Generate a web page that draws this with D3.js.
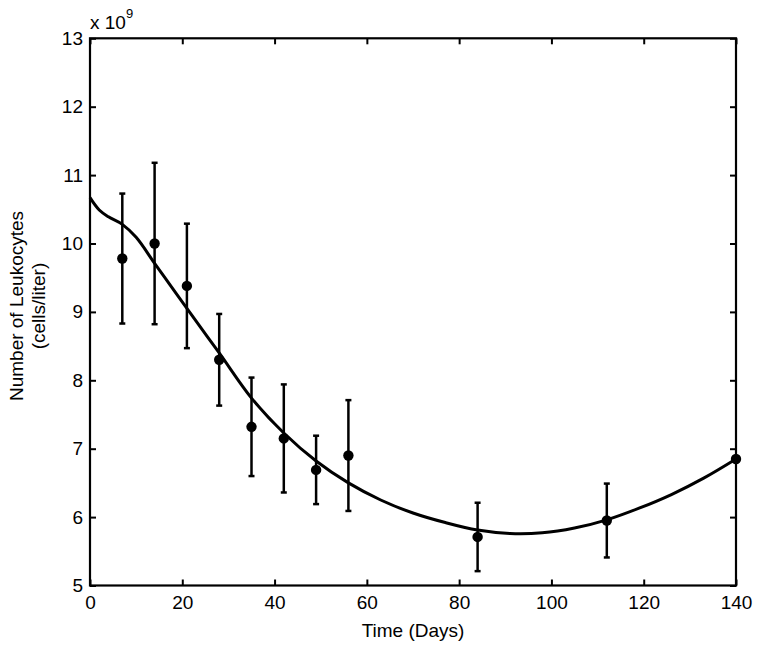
<!DOCTYPE html>
<html>
<head>
<meta charset="utf-8">
<script src="https://cdn.jsdelivr.net/npm/d3@7"></script>
<style>
  body { margin: 0; background: #fff; }
  text { font-family: "Liberation Sans", Arial, sans-serif; fill: #000; }
</style>
</head>
<body>
<div id="chart"></div>
<script>
// measured data (days, value in 1e9 cells/liter)
var days = [7, 14, 21, 28, 35, 42, 49, 56, 84, 112, 140];
var means = [9.78, 10.0, 9.38, 8.30, 7.32, 7.15, 6.69, 6.90, 5.71, 5.95, 6.85];
var errs = [0.95, 1.18, 0.91, 0.67, 0.72, 0.79, 0.50, 0.81, 0.50, 0.54, 0];

// model curve
var curveDays = [0, 2, 4, 7, 10, 14, 17.5, 21, 28, 35, 42, 49, 56, 63, 70, 77, 84, 91, 98, 105, 112, 119, 126, 133, 140];
var curveVals = [10.67, 10.49, 10.39, 10.28, 10.09, 9.71, 9.38, 9.05, 8.40, 7.74, 7.23, 6.82, 6.50, 6.25, 6.06, 5.92, 5.81, 5.76, 5.77, 5.84, 5.96, 6.13, 6.33, 6.57, 6.85];

var xTicks = [0, 20, 40, 60, 80, 100, 120, 140];
var yTicks = [5, 6, 7, 8, 9, 10, 11, 12, 13];

var width = 760, height = 648;
var plotLeft = 90, plotRight = 736, plotTop = 38.3, plotBottom = 585.5;
var fs = "19px";

var svg = d3.select("#chart").append("svg")
    .attr("width", width)
    .attr("height", height);

svg.append("rect").attr("width", width).attr("height", height).attr("fill", "#fff");

var x = d3.scaleLinear().domain([0, 140]).range([plotLeft, plotRight]);
var y = d3.scaleLinear().domain([5, 13]).range([plotBottom, plotTop]);

// axes (ticks point inwards)
svg.append("g")
    .attr("transform", "translate(0," + plotBottom + ")")
    .call(d3.axisBottom(x).tickValues(xTicks).tickSize(-6).tickPadding(10).tickFormat(d3.format("d")));
svg.append("g")
    .attr("transform", "translate(" + plotLeft + ",0)")
    .call(d3.axisLeft(y).tickValues(yTicks).tickSize(-6).tickPadding(7).tickFormat(d3.format("d")));
svg.append("g")
    .attr("transform", "translate(0," + plotTop + ")")
    .call(d3.axisTop(x).tickValues(xTicks).tickSize(-6).tickFormat(""));
svg.append("g")
    .attr("transform", "translate(" + plotRight + ",0)")
    .call(d3.axisRight(y).tickValues(yTicks).tickSize(-6).tickFormat(""));

svg.selectAll(".domain").remove();
svg.selectAll(".tick line").attr("stroke", "#000").attr("stroke-width", 2);
svg.selectAll(".tick text").style("font-size", fs).attr("fill", "#000");

svg.append("rect")
    .attr("x", plotLeft).attr("y", plotTop)
    .attr("width", plotRight - plotLeft).attr("height", plotBottom - plotTop)
    .attr("fill", "none").attr("stroke", "#000").attr("stroke-width", 2.2);

// exponent label
var expo = svg.append("text").attr("x", plotLeft).attr("y", 29).style("font-size", fs);
expo.append("tspan").text("x 10");
expo.append("tspan").attr("dy", -11).style("font-size", "13px").text("9");

// axis titles
svg.append("text")
    .attr("x", (plotLeft + plotRight) / 2).attr("y", 637)
    .attr("text-anchor", "middle").style("font-size", fs)
    .text("Time (Days)");

var ylab = svg.append("text")
    .attr("transform", "translate(23,306) rotate(-90)")
    .attr("text-anchor", "middle").style("font-size", fs);
ylab.append("tspan").attr("x", 0).attr("y", 0).text("Number of Leukocytes");
ylab.append("tspan").attr("x", 0).attr("y", 22).text("(cells/liter)");

// model curve
var curveData = curveDays.map(function(d, i) { return [d, curveVals[i]]; });
svg.append("path")
    .datum(curveData)
    .attr("fill", "none")
    .attr("stroke", "#000")
    .attr("stroke-width", 3)
    .attr("d", d3.line()
        .x(function(d) { return x(d[0]); })
        .y(function(d) { return y(d[1]); })
        .curve(d3.curveCatmullRom.alpha(0.5)));

// error bars
var pts = days.map(function(d, i) { return { day: d, mean: means[i], err: errs[i] }; });
var bars = svg.append("g").selectAll("g").data(pts.filter(function(d) { return d.err > 0; })).enter().append("g");
bars.append("line")
    .attr("x1", function(d) { return x(d.day); })
    .attr("x2", function(d) { return x(d.day); })
    .attr("y1", function(d) { return y(d.mean - d.err); })
    .attr("y2", function(d) { return y(d.mean + d.err); })
    .attr("stroke", "#000").attr("stroke-width", 2.5);
[-1, 1].forEach(function(s) {
    bars.append("line")
        .attr("x1", function(d) { return x(d.day) - 3; })
        .attr("x2", function(d) { return x(d.day) + 3; })
        .attr("y1", function(d) { return y(d.mean + s * d.err); })
        .attr("y2", function(d) { return y(d.mean + s * d.err); })
        .attr("stroke", "#000").attr("stroke-width", 2.5);
});

// points
svg.append("g").selectAll("circle").data(pts).enter().append("circle")
    .attr("cx", function(d) { return x(d.day); })
    .attr("cy", function(d) { return y(d.mean); })
    .attr("r", 5.2)
    .attr("fill", "#000");
</script>
</body>
</html>
